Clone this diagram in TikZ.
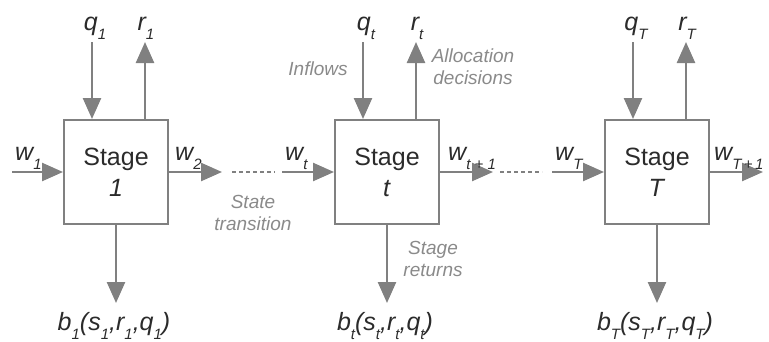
\documentclass[tikz,border=0pt]{standalone}
\usepackage{fontspec}
\setmainfont{Liberation Sans}
\usetikzlibrary{arrows.meta, positioning}
\usepackage{xcolor}
\definecolor{linegray}{HTML}{808080}
\definecolor{textdark}{HTML}{2B2B2B}
\definecolor{notegray}{HTML}{8A8A8A}
\newcommand{\sbs}[1]{\raisebox{-9pt}{\fontsize{15}{15}\selectfont #1}}

\begin{document}
\begin{tikzpicture}[
      x=1pt, y=-1pt,
      flow/.style={draw=linegray, line width=2.5pt, -{Triangle[length=21pt,width=18pt]}},
      gap/.style={draw=linegray, line width=2pt, dash pattern=on 4pt off 3pt},
      stagebox/.style={
        rectangle, draw=linegray, line width=2pt, align=center,
        minimum width=104pt, minimum height=104pt, text=textdark,
        font=\fontsize{25}{31}\selectfont
      },
      lbl/.style={font=\fontsize{25}{30}\selectfont\itshape, text=textdark, inner sep=0pt, anchor=base},
      note/.style={font=\fontsize{19}{22}\selectfont\itshape, text=notegray, align=center, inner sep=0pt}
    ]
    \useasboundingbox (0,0) rectangle (769,341);

    \foreach \n/\x in {1/64, t/335, T/605} {
      \node[stagebox] (s\n) at (\x+52,172) {Stage\\\textit{\n}};
      \coordinate (q\n) at (\x+28,42);
      \coordinate (r\n) at (\x+81,42);
      \coordinate (b\n) at (\x+52,303);
      \node[lbl] (ql\n) at (\x+31,30) {q\sbs{\n}};
      \node[lbl] (rl\n) at (\x+82,30) {r\sbs{\n}};
      \node[lbl] (bl\n) at (\x+50,330) {b\sbs{\n}(s\sbs{\n},r\sbs{\n},q\sbs{\n})};
      \draw[flow] (q\n) -- (q\n |- s\n.north);
      \draw[flow] (r\n |- s\n.north) -- (r\n);
      \draw[flow] (s\n) -- (b\n);
    }

    % state links
    \coordinate (in1) at (12,172);
    \coordinate (out1) at (222,172);
    \coordinate (d1a) at (232,172);
    \coordinate (d1b) at (275,172);
    \coordinate (int) at (282,172);
    \coordinate (outt) at (493,172);
    \coordinate (d2a) at (500,172);
    \coordinate (d2b) at (542,172);
    \coordinate (inT) at (552,172);
    \coordinate (outT) at (763,172);

    \draw[flow] (in1) -- (s1);
    \draw[flow] (s1) -- (out1);
    \draw[gap] (d1a) -- (d1b);
    \draw[flow] (int) -- (st);
    \draw[flow] (st) -- (outt);
    \draw[gap] (d2a) -- (d2b);
    \draw[flow] (inT) -- (sT);
    \draw[flow] (sT) -- (outT);

    \node[lbl, anchor=base west] (w1)  at (15,160)  {w\sbs{1}};
    \node[lbl, anchor=base west] (w2)  at (175,160) {w\sbs{2}};
    \node[lbl, anchor=base west] (wt)  at (285,160) {w\sbs{t}};
    \node[lbl, anchor=base west] (wt1) at (448,160) {w\sbs{t + 1}};
    \node[lbl, anchor=base west] (wT)  at (555,160) {w\sbs{T}};
    \node[lbl, anchor=base west] (wT1) at (714,160) {w\sbs{T\,+\,1}};

    \node[note] (trans) at (253,213) {State\\transition};
    \node[note, anchor=base] (inflow) at (318,75) {Inflows};
    \node[note] (alloc) at (473,67) {Allocation\\decisions};
    \node[note] (ret) at (433,259) {Stage\\returns};
  \end{tikzpicture}
\end{document}
